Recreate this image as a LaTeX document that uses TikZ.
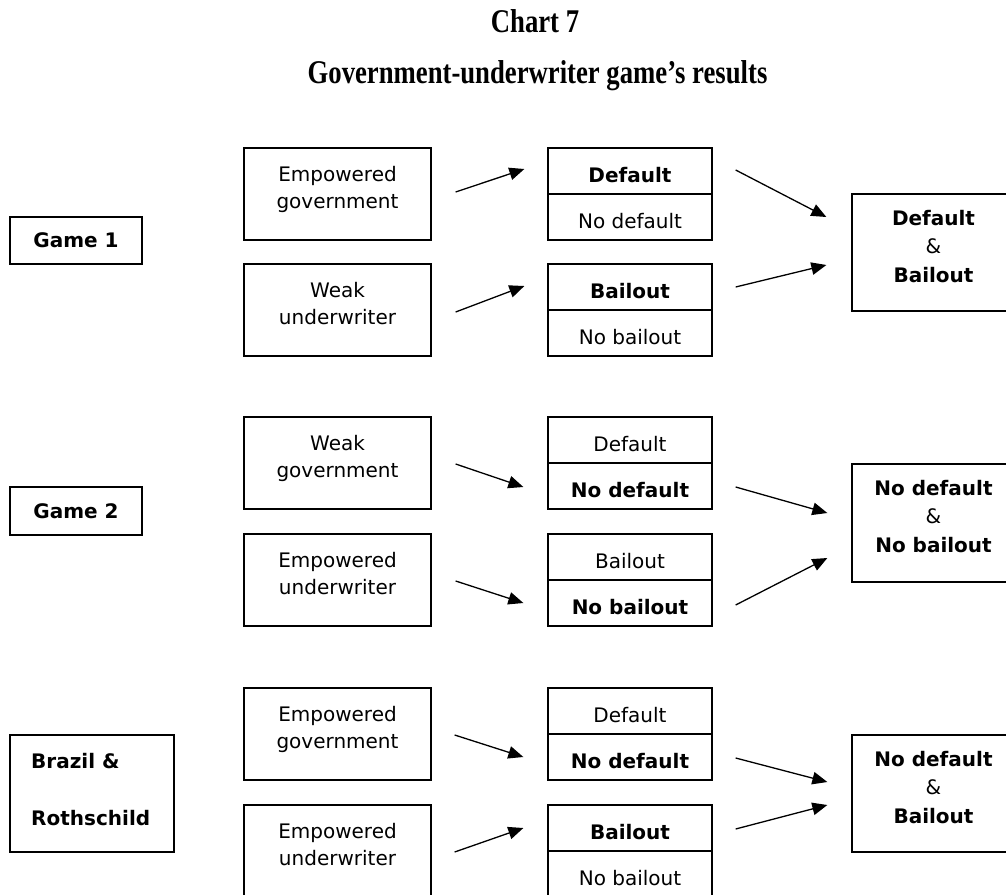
\documentclass[tikz,border=0pt]{standalone}
\usepackage{fontspec}
\usepackage{graphicx}
\setmainfont{DejaVu Sans}
\newfontfamily\titlefont{Liberation Serif}
\newcommand\dfs{\fontsize{20}{26}\selectfont}
\usetikzlibrary{arrows.meta,calc}
\tikzset{
  box/.style={draw, line width=1.3pt, inner sep=0pt},
  leftbox/.style={box, minimum width=187pt, minimum height=92pt},
  cell/.style={box, minimum width=164pt, minimum height=46pt, text height=22pt, text depth=0pt},
  resbox/.style={box, minimum width=163pt, minimum height=117pt},
  gamebox/.style={box, minimum width=132pt, minimum height=47pt, font=\dfs\bfseries},
  txt/.style={inner sep=0pt, anchor=base},
  bld/.style={font=\dfs\bfseries},
  arr/.style={-{Triangle[length=15pt,width=12.5pt]}, line width=1.3pt},
}
\begin{document}
\begin{tikzpicture}[x=1pt,y=-1pt, font=\dfs]
\useasboundingbox (0,0) rectangle (1006,894);
\clip (0,0) rectangle (1006,894);

% titles
\node[txt, font=\titlefont\bfseries\fontsize{26.7}{30}\selectfont] (title1) at (535,32) {\scalebox{1}[1.24]{Chart 7}};
\node[txt, font=\titlefont\bfseries\fontsize{26.7}{30}\selectfont] (title2) at (537.5,83) {\scalebox{1}[1.24]{Government-underwriter game’s results}};

% ---------------- Game 1
\node[gamebox] (g1) at (76,240.5) {Game 1};
\node[leftbox] (l1a) at (337.5,194) {};
\node[txt] (l1a1) at ($(l1a.north)+(0,34)$) {Empowered};
\node[txt] (l1a2) at ($(l1a.north)+(0,61)$) {government};
\node[leftbox] (l1b) at (337.5,310) {};
\node[txt] (l1b1) at ($(l1b.north)+(0,34)$) {Weak};
\node[txt] (l1b2) at ($(l1b.north)+(0,61)$) {underwriter};
\node[cell, bld] (m1a) at (630,171) {Default};
\node[cell] (m1b) at (630,217) {No default};
\node[cell, bld] (m1c) at (630,287) {Bailout};
\node[cell] (m1d) at (630,333) {No bailout};
\node[resbox] (r1) at (933.5,252.5) {};
\node[txt, bld] (r1a) at ($(r1.north)+(0,32)$) {Default};
\node[txt] (r1b) at ($(r1.north)+(0,60.5)$) {\&};
\node[txt, bld] (r1c) at ($(r1.north)+(0,89)$) {Bailout};

\coordinate (a1s) at ($(l1a.east)+(24,-2)$);
\coordinate (a1e) at ($(m1a.west)+(-23,-2)$);
\coordinate (b1s) at ($(l1b.east)+(24,2)$);
\coordinate (b1e) at ($(m1c.west)+(-23,-1)$);
\coordinate (c1s) at ($(m1a.east)+(23,-1)$);
\coordinate (c1e) at ($(r1.west)+(-25,-35.5)$);
\coordinate (d1s) at ($(m1c.east)+(23,0)$);
\coordinate (d1e) at ($(r1.west)+(-25,12.5)$);
\draw[arr] (a1s) -- (a1e);
\draw[arr] (b1s) -- (b1e);
\draw[arr] (c1s) -- (c1e);
\draw[arr] (d1s) -- (d1e);

% ---------------- Game 2
\node[gamebox, minimum height=48pt] (g2) at (76,511) {Game 2};
\node[leftbox] (l2a) at (337.5,463) {};
\node[txt] (l2a1) at ($(l2a.north)+(0,34)$) {Weak};
\node[txt] (l2a2) at ($(l2a.north)+(0,61)$) {government};
\node[leftbox] (l2b) at (337.5,580) {};
\node[txt] (l2b1) at ($(l2b.north)+(0,34)$) {Empowered};
\node[txt] (l2b2) at ($(l2b.north)+(0,61)$) {underwriter};
\node[cell] (m2a) at (630,440) {Default};
\node[cell, bld] (m2b) at (630,486) {No default};
\node[cell] (m2c) at (630,557) {Bailout};
\node[cell, bld] (m2d) at (630,603) {No bailout};
\node[resbox, minimum height=118pt] (r2) at (933.5,523) {};
\node[txt, bld] (r2a) at ($(r2.north)+(0,32)$) {No default};
\node[txt] (r2b) at ($(r2.north)+(0,60.5)$) {\&};
\node[txt, bld] (r2c) at ($(r2.north)+(0,89)$) {No bailout};

\coordinate (a2s) at ($(l2a.east)+(24,1)$);
\coordinate (a2e) at ($(m2b.west)+(-24,1)$);
\coordinate (b2s) at ($(l2b.east)+(24,1)$);
\coordinate (b2e) at ($(m2d.west)+(-24,0)$);
\coordinate (c2s) at ($(m2b.east)+(23,1)$);
\coordinate (c2e) at ($(r2.west)+(-24,-10)$);
\coordinate (d2s) at ($(m2d.east)+(23,2)$);
\coordinate (d2e) at ($(r2.west)+(-24,35)$);
\draw[arr] (a2s) -- (a2e);
\draw[arr] (b2s) -- (b2e);
\draw[arr] (c2s) -- (c2e);
\draw[arr] (d2s) -- (d2e);

% ---------------- Brazil & Rothschild
\node[box, minimum width=164pt, minimum height=117pt] (g3) at (92,793.5) {};
\node[txt, anchor=base west, bld] (g3a) at (31,768) {Brazil \&};
\node[txt, anchor=base west, bld] (g3b) at (31,825) {Rothschild};
\node[leftbox] (l3a) at (337.5,734) {};
\node[txt] (l3a1) at ($(l3a.north)+(0,34)$) {Empowered};
\node[txt] (l3a2) at ($(l3a.north)+(0,61)$) {government};
\node[leftbox] (l3b) at (337.5,851) {};
\node[txt] (l3b1) at ($(l3b.north)+(0,34)$) {Empowered};
\node[txt] (l3b2) at ($(l3b.north)+(0,61)$) {underwriter};
\node[cell] (m3a) at (630,711) {Default};
\node[cell, bld] (m3b) at (630,757) {No default};
\node[cell, bld] (m3c) at (630,828) {Bailout};
\node[cell] (m3d) at (630,874) {No bailout};
\node[resbox] (r3) at (933.5,793.5) {};
\node[txt, bld] (r3a) at ($(r3.north)+(0,32)$) {No default};
\node[txt] (r3b) at ($(r3.north)+(0,60.5)$) {\&};
\node[txt, bld] (r3c) at ($(r3.north)+(0,89)$) {Bailout};

\coordinate (a3s) at ($(l3a.east)+(23,1)$);
\coordinate (a3e) at ($(m3b.west)+(-24,0)$);
\coordinate (b3s) at ($(l3b.east)+(23,1)$);
\coordinate (b3e) at ($(m3c.west)+(-24,0)$);
\coordinate (c3s) at ($(m3b.east)+(23,1)$);
\coordinate (c3e) at ($(r3.west)+(-24,-11.5)$);
\coordinate (d3s) at ($(m3c.east)+(23,1)$);
\coordinate (d3e) at ($(r3.west)+(-24,11.5)$);
\draw[arr] (a3s) -- (a3e);
\draw[arr] (b3s) -- (b3e);
\draw[arr] (c3s) -- (c3e);
\draw[arr] (d3s) -- (d3e);
\end{tikzpicture}
\end{document}
